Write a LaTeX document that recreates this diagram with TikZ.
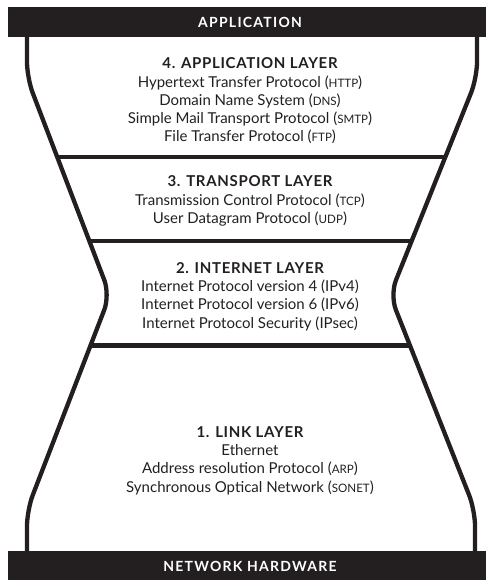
\documentclass[tikz,border=0pt]{standalone}
\usepackage{fontspec}
\setmainfont{Lato}
\newfontfamily\headfont[LetterSpace=4.5]{Lato}
\newfontfamily\barfont[LetterSpace=9]{Lato}
\definecolor{ink}{HTML}{231F20}
\newcommand{\sca}[1]{{\fontsize{11.6pt}{11.6pt}\selectfont #1}}
\newcommand{\hd}[1]{{\headfont\bfseries #1}}
\tikzset{
  outline/.style={draw=ink, line width=4.3pt, rounded corners=16pt},
  sepline/.style={draw=ink, line width=4.3pt},
  bar/.style={fill=ink, draw=none},
  bartext/.style={text=white, font=\fontsize{14pt}{15pt}\barfont\bfseries},
  layertext/.style={text=ink, align=center, font=\fontsize{15pt}{18.3pt}\selectfont, inner sep=0pt},
}
\begin{document}
\begin{tikzpicture}[x=1pt,y=-1pt]
\useasboundingbox (0,0) rectangle (485,580);
% outline
\draw[outline] (27,30) -- (27,78) -- (110,295) -- (27,510) -- (27,560);
\draw[outline] (477,30) -- (477,78) -- (390,295) -- (475,510) -- (475,560);
% separators
\draw[sepline] (57.4,157) -- (445.3,157);
\draw[sepline] (89.3,241) -- (411.5,241);
\draw[sepline] (90.5,345.5) -- (409.8,345.5);
% bars
\fill[bar] (8,7) rectangle (495,36.7);
\fill[bar] (8,551) rectangle (495,585);
\node[bartext] (top) at (250,22) {APPLICATION};
\node[bartext] (bot) at (250,566.5) {NETWORK HARDWARE};
% layers
\node[layertext] (l4) at (250,101) {\hd{4. APPLICATION LAYER}\\
Hypertext Transfer Protocol (\sca{HTTP})\\
Domain Name System (\sca{DNS})\\
Simple Mail Transport Protocol (\sca{SMTP})\\
File Transfer Protocol (\sca{FTP})};
\node[layertext] (l3) at (250,201) {\hd{3. TRANSPORT LAYER}\\
Transmission Control Protocol (\sca{TCP})\\
User Datagram Protocol (\sca{UDP})};
\node[layertext] (l2) at (250,296.5) {\hd{2. INTERNET LAYER}\\
Internet Protocol version 4 (IPv4)\\
Internet Protocol version 6 (IPv6)\\
Internet Protocol Security (IPsec)};
\node[layertext] (l1) at (250,460.5) {\hd{1. LINK LAYER}\\
Ethernet\\
Address resolution Protocol (\sca{ARP})\\
Synchronous Optical Network (\sca{SONET})};
\end{tikzpicture}
\end{document}
